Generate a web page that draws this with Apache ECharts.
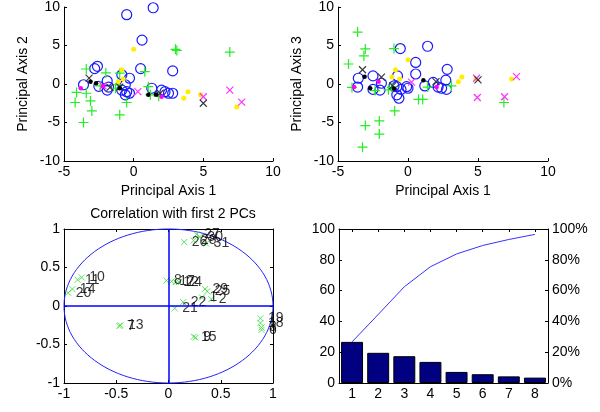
<!DOCTYPE html>
<html>
<head>
<meta charset="utf-8">
<script src="https://cdn.jsdelivr.net/npm/echarts@6/dist/echarts.min.js"></script>
<style>
  html, body { margin: 0; padding: 0; background: #fff; }
  #chart { width: 600px; height: 412px; }
</style>
</head>
<body>
<div id="chart"></div>
<script>
// ---- Scores on principal axes 1 & 2 (one list per group) ----
const circles12 = [[-0.5,9.0],[1.4,9.9],[0.6,5.7],[0.5,2.0],[2.8,1.7],[-2.6,2.3],[-2.8,2.0],[-1.9,0.4],[-3.6,-0.1],[-2.5,-0.3],[-1.8,-0.4],[-1.9,-0.8],[-0.85,1.2],[-0.3,0.75],[-0.6,-0.1],[-0.85,-0.8],[-0.5,-1.0],[-0.3,-1.2],[-0.6,-1.4],[1.3,-0.55],[2.0,-0.8],[2.25,-1.0],[2.5,-1.2],[2.8,-1.2]];
const plus12 = [[3.0,4.5],[3.1,4.35],[6.9,4.15],[-3.4,1.95],[-2.0,1.45],[-1.0,1.4],[0.8,1.6],[-4.1,-1.1],[-3.4,-1.2],[-4.2,-2.4],[-3.1,-2.2],[-3.0,-3.5],[-3.6,-5.0],[-2.4,-0.25],[-1.3,-0.55],[-0.5,-2.4],[-1.0,-4.0],[1.05,-0.35],[1.2,-1.4],[1.8,-1.6],[-1.1,-0.1]];
const yellow12 = [[0.0,4.5],[-0.85,1.85],[-1.1,0.3],[-0.75,0.65],[3.9,-1.0],[3.6,-1.85],[4.8,-1.4],[7.4,-3.0]];
const magentaX12 = [[0.3,-1.0],[5.0,-1.65],[6.9,-0.8],[7.75,-2.35],[-2.2,-0.25]];
const blackX12 = [[-3.2,0.75],[-1.7,-0.45],[5.0,-2.5],[1.9,-1.2],[-1.0,-0.4]];
const blackDot12 = [[-3.1,0.3],[-2.7,0.1],[1.05,-1.4],[-1.0,-0.55],[1.6,-1.35]];
const magentaDot12 = [[-3.8,-0.55],[2.0,-1.65],[-2.2,-0.3]];

// ---- Scores on principal axes 1 & 3 ----
const circles13 = [[-0.55,4.6],[1.4,4.9],[0.55,2.8],[0.55,1.3],[2.8,1.9],[-3.55,0.75],[-3.6,-0.4],[-2.5,1.05],[-2.5,-0.7],[-1.9,0.1],[-2.0,-0.8],[-0.75,1.05],[-0.8,-0.35],[-0.5,-0.7],[-0.8,-1.4],[-0.65,-1.85],[-0.1,-0.35],[0.0,-0.55],[-1.0,-0.25],[1.2,-0.25],[1.8,0.2],[2.15,-0.4],[2.4,-0.55],[2.7,0.5],[2.75,-0.7]];
const plus13 = [[-3.6,6.75],[-4.25,2.6],[-3.05,4.55],[-3.15,3.65],[-1.0,4.6],[-4.0,-0.45],[-3.05,-5.4],[-2.05,-4.8],[-2.05,-6.5],[-0.95,-3.5],[-3.25,-8.2],[-2.35,-0.85],[-1.4,-0.75],[-1.15,-0.45],[0.75,-2.0],[1.05,-2.0],[1.4,-0.4],[3.1,-0.25],[6.85,-2.4]];
const yellow13 = [[0.0,3.15],[-0.9,1.85],[-1.15,0.9],[-0.6,0.65],[3.6,0.3],[3.85,0.9],[4.85,0.65],[7.4,0.65]];
const magentaX13 = [[0.25,0.25],[4.95,-1.75],[6.9,-1.65],[7.75,0.95],[4.9,0.75]];
const blackX13 = [[-3.25,1.85],[-1.9,0.9],[-1.1,-0.25],[2.0,0.3],[5.0,0.55]];
const blackDot13 = [[-3.1,0.95],[-2.7,-0.55],[1.1,0.5],[-1.0,-0.6]];
const magentaDot13 = [[-3.85,-0.4],[-2.1,0.3],[2.05,-0.4]];

// ---- Correlation of each variable with the first two PCs ----
const corrLabels = ['26','28','27','30','31','8','17','12','24','29','25','1','2','22','21','15','9','7','13','20','14','11','10','19','18','3','6'];
const corrX = [0.15,0.24,0.27,0.30,0.36,-0.02,0.03,0.07,0.10,0.35,0.37,0.32,0.41,0.14,0.06,0.24,0.26,-0.47,-0.46,-0.96,-0.92,-0.87,-0.83,0.88,0.88,0.89,0.89];
const corrY = [0.83,0.85,0.93,0.90,0.81,0.33,0.32,0.31,0.31,0.22,0.19,0.11,0.09,0.05,-0.03,-0.40,-0.41,-0.26,-0.25,0.17,0.22,0.34,0.37,-0.16,-0.22,-0.28,-0.31];

// ---- Variance explained (%) and its running total ----
const pcLabels = ['1','2','3','4','5','6','7','8'];
const explained = [26.7, 19.6, 17.4, 13.7, 7.2, 5.7, 4.3, 3.5];
const cumulative = [26.7, 44.5, 62.5, 75.5, 83.8, 89.3, 93.2, 96.5];
const leftTicks = [0, 100, 20];
const pctTicks = [0, 100, 20];

const FONT = "'Liberation Sans', Arial, Helvetica, sans-serif";
const FS = 14;
const PLUS = 'path://M0,5L10,5M5,0L5,10';
const CROSS = 'path://M0,0L10,10M10,0L0,10';

const axisLineStyle = { show: true, onZero: false, lineStyle: { color: '#000', width: 1 } };
const tick = { show: true, inside: true, length: 3, lineStyle: { color: '#000' } };
const lbl = { color: '#000', fontSize: FS, fontFamily: FONT };

function valAxis(grid, min, max, interval, opts) {
  return Object.assign({
    type: 'value', gridIndex: grid, min: min, max: max, interval: interval,
    axisLine: axisLineStyle, axisTick: tick, splitLine: { show: false },
    axisLabel: Object.assign({ margin: 4 }, lbl),
    nameTextStyle: { color: '#000', fontSize: FS, fontFamily: FONT }
  }, opts || {});
}

function scat(x, y, data, symbol, size, stroke, fill, w) {
  return {
    type: 'scatter', xAxisIndex: x, yAxisIndex: y, data: data, symbol: symbol, symbolSize: size,
    itemStyle: { color: fill, borderColor: stroke, borderWidth: w, opacity: 1 },
    silent: true, z: 3
  };
}

function groupSeries(ax, circles, plus, yellow, magX, blkX, blkDot, magDot) {
  return [
    scat(ax, ax, circles, 'circle', 10, '#1a1aff', 'none', 1.2),
    scat(ax, ax, plus, PLUS, 10, '#22ee22', 'none', 1.2),
    scat(ax, ax, yellow, 'circle', 5, '#ffee00', '#ffee00', 0),
    scat(ax, ax, magX, CROSS, 7, '#ff33ff', 'none', 1.2),
    scat(ax, ax, blkX, CROSS, 7, '#333333', 'none', 1.1),
    scat(ax, ax, blkDot, 'circle', 4.5, '#000', '#000', 0),
    scat(ax, ax, magDot, 'circle', 4.5, '#ff00ff', '#ff00ff', 0)
  ];
}

const chart = echarts.init(document.getElementById('chart'), null, { renderer: 'canvas' });

const option = {
  animation: false,
  backgroundColor: '#fff',
  textStyle: { fontFamily: FONT },
  title: {
    text: 'Correlation with first 2 PCs', left: 168, top: 202, textAlign: 'center',
    textStyle: { color: '#000', fontSize: FS, fontWeight: 'normal', fontFamily: FONT }
  },
  grid: [
    { left: 64, top: 7, width: 209, height: 154 },
    { left: 338, top: 7, width: 210, height: 154 },
    { left: 64, top: 229, width: 209, height: 154 },
    { left: 339, top: 229, width: 209, height: 154 }
  ],
  xAxis: [
    valAxis(0, -5, 10, 5, { name: 'Principal Axis 1', nameLocation: 'middle', nameGap: 23 }),
    valAxis(1, -5, 10, 5, { name: 'Principal Axis 1', nameLocation: 'middle', nameGap: 23 }),
    valAxis(2, -1, 1, 0.5, {}),
    valAxis(2, -1, 1, 0.5, { position: 'top', axisLabel: { show: false } }),
    {
      type: 'category', gridIndex: 3, data: pcLabels, boundaryGap: true,
      axisLine: axisLineStyle, axisTick: Object.assign({ alignWithLabel: true }, tick),
      axisLabel: Object.assign({ margin: 4 }, lbl), splitLine: { show: false }
    },
    {
      type: 'category', gridIndex: 3, data: pcLabels, position: 'top', boundaryGap: true,
      axisLine: axisLineStyle, axisTick: Object.assign({ alignWithLabel: true }, tick),
      axisLabel: { show: false }, splitLine: { show: false }
    }
  ],
  yAxis: [
    valAxis(0, -10, 10, 5, { name: 'Principal Axis 2', nameLocation: 'middle', nameGap: 34 }),
    valAxis(1, -10, 10, 5, { name: 'Principal Axis 3', nameLocation: 'middle', nameGap: 34 }),
    valAxis(2, -1, 1, 0.5, {}),
    valAxis(2, -1, 1, 0.5, { position: 'right', axisLabel: { show: false } }),
    valAxis(3, leftTicks[0], leftTicks[1], leftTicks[2], {}),
    valAxis(3, pctTicks[0], pctTicks[1], pctTicks[2], {
      position: 'right', axisLabel: Object.assign({ margin: 4, formatter: '{value}%' }, lbl)
    })
  ],
  series: [
    ...groupSeries(0, circles12, plus12, yellow12, magentaX12, blackX12, blackDot12, magentaDot12),
    ...groupSeries(1, circles13, plus13, yellow13, magentaX13, blackX13, blackDot13, magentaDot13),
    // unit circle of the correlation plot, drawn through the axis scales
    {
      type: 'custom', xAxisIndex: 2, yAxisIndex: 2, data: [[0, 0]], silent: true, z: 2,
      renderItem: function (params, api) {
        const c = api.coord([0, 0]);
        const e = api.coord([1, 1]);
        return {
          type: 'ellipse',
          shape: { cx: c[0], cy: c[1], rx: e[0] - c[0], ry: c[1] - e[1] },
          style: { fill: 'none', stroke: '#2222ff', lineWidth: 1 }
        };
      }
    },
    {
      type: 'scatter', xAxisIndex: 2, yAxisIndex: 2, silent: true, z: 4,
      data: corrX.map((x, i) => [x, corrY[i], corrLabels[i]]),
      symbol: CROSS, symbolSize: 6,
      itemStyle: { color: 'none', borderColor: '#33dd33', borderWidth: 1 },
      label: {
        show: true, position: 'right', distance: 2, color: '#000', fontSize: FS, fontFamily: FONT,
        formatter: p => p.value[2]
      },
      markLine: {
        silent: true, symbol: 'none', label: { show: false },
        lineStyle: { color: '#0000ff', width: 1.5, type: 'solid' },
        data: [{ xAxis: 0 }, { yAxis: 0 }]
      }
    },
    {
      type: 'bar', xAxisIndex: 4, yAxisIndex: 4, data: explained, barWidth: '84%', silent: true,
      itemStyle: { color: '#000080', borderColor: '#000', borderWidth: 1 }
    },
    {
      type: 'line', xAxisIndex: 4, yAxisIndex: 4, data: cumulative, showSymbol: false, silent: true,
      lineStyle: { color: '#3333ff', width: 1 }, z: 5
    }
  ]
};

chart.setOption(option);
</script>
</body>
</html>
